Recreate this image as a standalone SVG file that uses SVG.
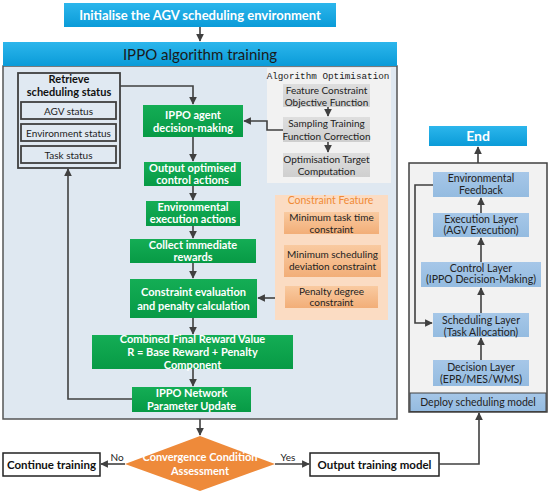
<svg xmlns="http://www.w3.org/2000/svg" width="550" height="491" viewBox="0 0 550 491">
<defs>
<linearGradient id="gBlue" x1="0" y1="0" x2="0" y2="1"><stop offset="0" stop-color="#2cb6ec"/><stop offset="1" stop-color="#0a9bd8"/></linearGradient>
<linearGradient id="gGreen" x1="0" y1="0" x2="0" y2="1"><stop offset="0" stop-color="#14ad55"/><stop offset="1" stop-color="#079a45"/></linearGradient>
<linearGradient id="gGray" x1="0" y1="0" x2="0" y2="1"><stop offset="0" stop-color="#dedede"/><stop offset="1" stop-color="#cfcfcf"/></linearGradient>
<linearGradient id="gPeach" x1="0" y1="0" x2="0" y2="1"><stop offset="0" stop-color="#f9caa0"/><stop offset="1" stop-color="#f2ae78"/></linearGradient>
<linearGradient id="gLayer" x1="0" y1="0" x2="0" y2="1"><stop offset="0" stop-color="#a6c7e8"/><stop offset="1" stop-color="#94bbe0"/></linearGradient>
<marker id="ah" viewBox="0 0 10 10" refX="9" refY="5" markerWidth="4.8" markerHeight="4.8" orient="auto-start-reverse"><path d="M0,0 L10,5 L0,10 z" fill="#404040"/></marker>
</defs>
<style>
text{font-family:Lato,"Open Sans","Liberation Sans",sans-serif;text-anchor:middle}
.gb{fill:url(#gGreen)}
.wt{fill:#fff;font-weight:bold;font-size:11px}
.dk{fill:#222;font-size:10.5px}
.bk{fill:#111;font-weight:bold;font-size:11.5px}
.ar{fill:none;stroke:#404040;stroke-width:1.6;marker-end:url(#ah)}
.st{fill:#e0e9f2;stroke:#404040;stroke-width:1.8}
.gr{fill:url(#gGray)}
.pc{fill:url(#gPeach)}
.ly{fill:url(#gLayer)}
</style>

<g id="init">
<rect x="64" y="3" width="272" height="24" fill="url(#gBlue)"/>
<text x="200" y="19.5" style="fill:#fff;font-weight:bold;font-size:13px">Initialise the AGV scheduling environment</text>
</g>

<g id="training-container">
<rect x="3" y="66" width="394" height="353" fill="#dfe8f1" stroke="#555" stroke-width="1.5"/>
<rect x="3" y="42" width="394" height="24" fill="url(#gBlue)"/>
<text x="200" y="59.5" style="fill:#1a1a1a;font-size:15px">IPPO algorithm training</text>
</g>

<g id="retrieve">
<rect x="18" y="73" width="102" height="95" class="st"/>
<text x="69" y="83" class="bk" style="font-size:11px">Retrieve</text>
<text x="69" y="96" class="bk" style="font-size:11px">scheduling status</text>
<rect x="21" y="102" width="95" height="17" class="st"/>
<text x="68.5" y="114.5" class="dk" style="font-size:10px">AGV status</text>
<rect x="21" y="124" width="95" height="17" class="st"/>
<text x="68.5" y="136.5" class="dk" style="font-size:10px">Environment status</text>
<rect x="21" y="146" width="95" height="17" class="st"/>
<text x="68.5" y="158.5" class="dk" style="font-size:10px">Task status</text>
</g>

<g id="algo-panel">
<rect x="267" y="68" width="124" height="115" fill="#f2f2f2"/>
<text x="328" y="79" style="font-family:'Liberation Mono','DejaVu Sans Mono',monospace;font-size:9.3px;fill:#222">Algorithm Optimisation</text>
<rect x="283" y="84" width="87" height="23" class="gr"/>
<text x="326.5" y="93.5" class="dk" style="font-size:10px">Feature Constraint</text>
<text x="326.5" y="105.5" class="dk" style="font-size:10px">Objective Function</text>
<rect x="283" y="117" width="87" height="25" class="gr"/>
<text x="326.5" y="127" class="dk" style="font-size:10px">Sampling Training</text>
<text x="326.5" y="139.5" class="dk" style="font-size:10px">Function Correction</text>
<rect x="283" y="153" width="87" height="24" class="gr"/>
<text x="326.5" y="162.5" class="dk" style="font-size:10px">Optimisation Target</text>
<text x="326.5" y="174.5" class="dk" style="font-size:10px">Computation</text>
</g>

<g id="constraint-panel">
<rect x="275" y="195" width="113" height="125" fill="#fbdcc3"/>
<text x="330.5" y="204" style="fill:#f08a35;font-size:10.5px">Constraint Feature</text>
<rect x="284" y="212" width="95" height="22" class="pc"/>
<text x="331.5" y="221" class="dk" style="font-size:10px">Minimum task time</text>
<text x="331.5" y="232.5" class="dk" style="font-size:10px">constraint</text>
<rect x="284" y="245" width="97" height="32" class="pc"/>
<text x="332.5" y="257.5" class="dk" style="font-size:10px">Minimum scheduling</text>
<text x="332.5" y="269.5" class="dk" style="font-size:10px">deviation constraint</text>
<rect x="285" y="286" width="93" height="22" class="pc"/>
<text x="331.5" y="295" class="dk" style="font-size:10px">Penalty degree</text>
<text x="331.5" y="306" class="dk" style="font-size:10px">constraint</text>
</g>

<g id="ippo-agent">
<rect x="143" y="105" width="100" height="32" class="gb"/>
<text x="193" y="119" class="wt">IPPO agent</text>
<text x="193" y="132" class="wt">decision-making</text>
</g>
<g id="output-actions">
<rect x="144" y="162" width="97" height="24" class="gb"/>
<text x="192.5" y="172" class="wt">Output optimised</text>
<text x="192.5" y="184" class="wt">control actions</text>
</g>
<g id="env-exec">
<rect x="146" y="201" width="94" height="25" class="gb"/>
<text x="193" y="211" class="wt">Environmental</text>
<text x="193" y="223" class="wt">execution actions</text>
</g>
<g id="collect-rewards">
<rect x="130" y="239" width="126" height="24" class="gb"/>
<text x="193" y="248.5" class="wt">Collect immediate</text>
<text x="193" y="261" class="wt">rewards</text>
</g>
<g id="constraint-eval">
<rect x="130" y="279" width="127" height="39" class="gb"/>
<text x="193.5" y="296" class="wt">Constraint evaluation</text>
<text x="193.5" y="310" class="wt">and penalty calculation</text>
</g>
<g id="combined-reward">
<rect x="92" y="335" width="201" height="34" class="gb"/>
<text x="192.5" y="343" class="wt">Combined Final Reward Value</text>
<text x="192.5" y="356" class="wt">R = Base Reward + Penalty</text>
<text x="192.5" y="368.5" class="wt">Component</text>
</g>
<g id="network-update">
<rect x="132" y="387" width="119" height="25" class="gb"/>
<text x="191.5" y="397" class="wt">IPPO Network</text>
<text x="191.5" y="410" class="wt">Parameter Update</text>
</g>

<g id="convergence">
<polygon points="200,436 275,464 200,491 125,464" fill="#ee8a3a"/>
<text x="200" y="461" class="wt">Convergence Condition</text>
<text x="200" y="475" class="wt">Assessment</text>
</g>
<g id="continue">
<rect x="3" y="453" width="97" height="23" fill="#fff" stroke="#222" stroke-width="1.5"/>
<text x="51.5" y="468.5" class="bk">Continue training</text>
</g>
<g id="output-model">
<rect x="310" y="453" width="129" height="23" fill="#fff" stroke="#222" stroke-width="1.5"/>
<text x="374.5" y="468.5" class="bk">Output training model</text>
</g>

<g id="end">
<rect x="429" y="126" width="98" height="20" fill="url(#gBlue)"/>
<text x="478" y="141" style="fill:#fff;font-weight:bold;font-size:14px">End</text>
</g>

<g id="deploy-panel">
<rect x="409" y="163" width="138" height="249" fill="#f2f2f2" stroke="#404040" stroke-width="1.5"/>
<rect x="410" y="393" width="136" height="18.5" fill="url(#gLayer)" stroke="#404040" stroke-width="1"/>
<text x="478" y="406" class="dk" style="font-size:10.5px">Deploy scheduling model</text>
</g>
<g id="env-feedback">
<rect x="433" y="172" width="96" height="25" class="ly"/>
<text x="481" y="182" class="dk">Environmental</text>
<text x="481" y="194" class="dk">Feedback</text>
</g>
<g id="execution-layer">
<rect x="433" y="213" width="96" height="24" class="ly"/>
<text x="481" y="223" class="dk">Execution Layer</text>
<text x="481" y="234" class="dk">(AGV Execution)</text>
</g>
<g id="control-layer">
<rect x="421" y="262" width="120" height="25" class="ly"/>
<text x="481" y="272" class="dk">Control Layer</text>
<text x="481" y="283" class="dk">(IPPO Decision-Making)</text>
</g>
<g id="scheduling-layer">
<rect x="433" y="313" width="96" height="24" class="ly"/>
<text x="481" y="324" class="dk">Scheduling Layer</text>
<text x="481" y="335.5" class="dk">(Task Allocation)</text>
</g>
<g id="decision-layer">
<rect x="433" y="360" width="96" height="26" class="ly"/>
<text x="481" y="371" class="dk">Decision Layer</text>
<text x="481" y="383" class="dk">(EPR/MES/WMS)</text>
</g>

<g id="connectors">
<path d="M200,27 V41" class="ar"/>
<path d="M120,86 H193 V104" class="ar"/>
<path d="M193,137 V161" class="ar"/>
<path d="M193,186 V200" class="ar"/>
<path d="M193,226 V238" class="ar"/>
<path d="M193,263 V278" class="ar"/>
<path d="M193,318 V334" class="ar"/>
<path d="M193,369 V386" class="ar"/>
<path d="M132,399 H68 V169" class="ar"/>
<path d="M328,107 V116" class="ar"/>
<path d="M328,142 V152" class="ar"/>
<path d="M283,130 H267 V121 H244" class="ar"/>
<path d="M275,298 H258" class="ar"/>
<path d="M200,419 V435" class="ar"/>
<path d="M125,464 H101" class="ar"/>
<path d="M275,464 H309" class="ar"/>
<path d="M439,464 H479 V413" class="ar"/>
<path d="M478,163 V147" class="ar"/>
<path d="M481,213 V198" class="ar"/>
<path d="M481,262 V238" class="ar"/>
<path d="M481,313 V288" class="ar"/>
<path d="M481,360 V338" class="ar"/>
<path d="M433,185 H415 V323 H432" class="ar"/>
<text x="117" y="461" style="fill:#222;font-size:10px">No</text>
<text x="288" y="461" style="fill:#222;font-size:10px">Yes</text>
</g>
</svg>
